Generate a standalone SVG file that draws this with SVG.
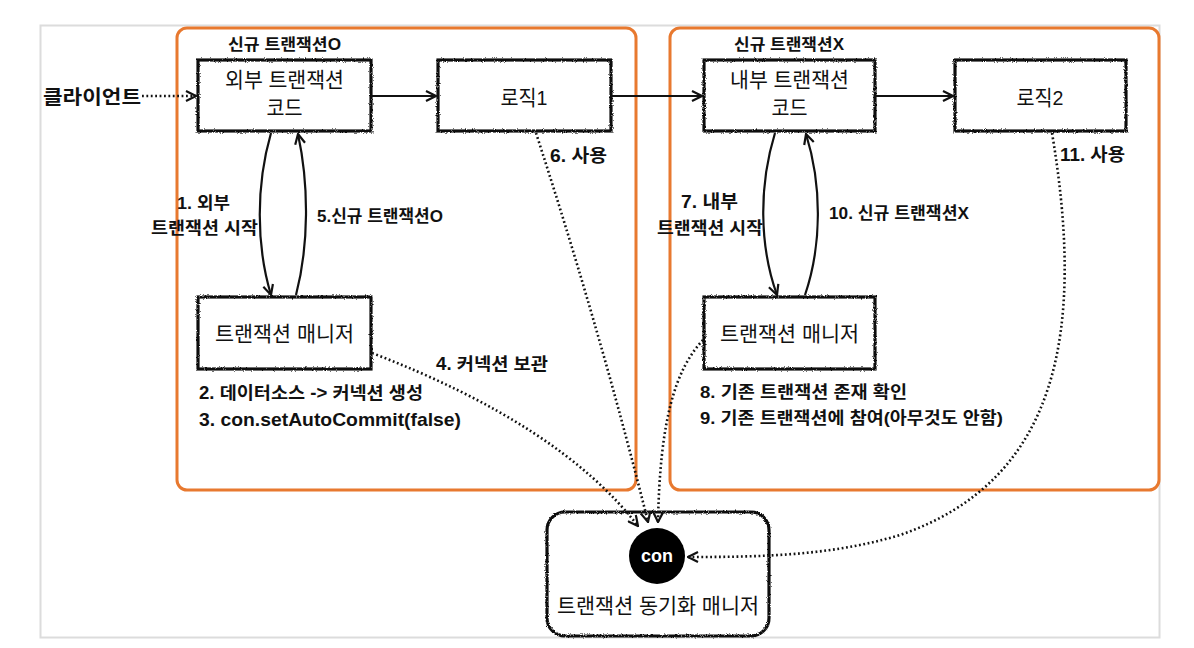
<svg xmlns="http://www.w3.org/2000/svg" width="1194" height="648" viewBox="0 0 1194 648">
<style>
  text { font-family: "Liberation Sans", "Noto Sans CJK KR", sans-serif; fill: #111; }
  .node { font-size: 21px; text-anchor: middle; }
  .lbl { font-size: 16px; font-weight: bold; }
  .box { fill: #fff; stroke: #111; stroke-width: 3.2; filter: url(#rough); }
  .group { fill: none; stroke: #E8792F; stroke-width: 3; }
  .solid { fill: none; stroke: #111; stroke-width: 2.2; }
  .dot { fill: none; stroke: #111; stroke-width: 2.6; stroke-dasharray: 1.8 2.6; }
</style>
<defs>
  <filter id="rough" x="-5%" y="-5%" width="110%" height="110%">
    <feTurbulence type="fractalNoise" baseFrequency="0.9" numOctaves="2" seed="3" result="n"/>
    <feDisplacementMap in="SourceGraphic" in2="n" scale="3" xChannelSelector="R" yChannelSelector="G"/>
  </filter>
  <marker id="arr" viewBox="0 0 12 12" refX="11" refY="6" markerWidth="12" markerHeight="12" markerUnits="userSpaceOnUse" orient="auto">
    <path d="M1,1 L11,6 L1,11" fill="none" stroke="#111" stroke-width="2.2" stroke-dasharray="none"/>
  </marker>
</defs>
<rect width="1194" height="648" fill="#fff"/>
<rect x="40.5" y="25.5" width="1119" height="612" fill="none" stroke="#dcdcdc" stroke-width="2"/>

<g id="group-outer">
  <rect class="group" x="177" y="28" width="459" height="462" rx="10"/>
  <text class="lbl" x="228" y="50" textLength="113" lengthAdjust="spacingAndGlyphs">신규 트랜잭션O</text>
</g>
<g id="group-inner">
  <rect class="group" x="670" y="28" width="489" height="462" rx="10"/>
  <text class="lbl" x="734" y="50" textLength="110" lengthAdjust="spacingAndGlyphs">신규 트랜잭션X</text>
</g>

<g id="client">
  <text class="lbl" x="43" y="104" style="font-size:19.5px" textLength="98" lengthAdjust="spacingAndGlyphs">클라이언트</text>
</g>

<g id="outer-code">
  <rect class="box" x="198" y="60" width="173" height="71"/>
  <text class="node" x="284.5" y="87" textLength="119" lengthAdjust="spacingAndGlyphs">외부 트랜잭션</text>
  <text class="node" x="284.5" y="115" textLength="36" lengthAdjust="spacingAndGlyphs">코드</text>
</g>
<g id="logic1">
  <rect class="box" x="438" y="60" width="173" height="71"/>
  <text class="node" x="524" y="105" textLength="47" lengthAdjust="spacingAndGlyphs">로직1</text>
</g>
<g id="tm1">
  <rect class="box" x="198" y="297" width="173" height="72"/>
  <text class="node" x="284.5" y="341" textLength="139" lengthAdjust="spacingAndGlyphs">트랜잭션 매니저</text>
</g>
<g id="inner-code">
  <rect class="box" x="704" y="60" width="171" height="71"/>
  <text class="node" x="789.5" y="87" textLength="119" lengthAdjust="spacingAndGlyphs">내부 트랜잭션</text>
  <text class="node" x="789.5" y="115" textLength="36" lengthAdjust="spacingAndGlyphs">코드</text>
</g>
<g id="logic2">
  <rect class="box" x="955" y="60" width="171" height="71"/>
  <text class="node" x="1040" y="105" textLength="47" lengthAdjust="spacingAndGlyphs">로직2</text>
</g>
<g id="tm2">
  <rect class="box" x="704" y="297" width="171" height="72"/>
  <text class="node" x="789.5" y="341" textLength="139" lengthAdjust="spacingAndGlyphs">트랜잭션 매니저</text>
</g>
<g id="sync-manager">
  <rect class="box" x="547" y="512" width="222" height="124" rx="18"/>
  <circle cx="657" cy="556" r="28" fill="#000"/>
  <text x="657" y="562" style="font-size:18px;font-weight:bold;fill:#fff;text-anchor:middle">con</text>
  <text class="node" x="658" y="613" textLength="202" lengthAdjust="spacingAndGlyphs">트랜잭션 동기화 매니저</text>
</g>

<g id="connectors">
  <path class="dot" d="M142,96 L196,96" marker-end="url(#arr)"/>
  <path class="solid" d="M371,96 L436,96" marker-end="url(#arr)"/>
  <path class="solid" d="M611,96 L702,96" marker-end="url(#arr)"/>
  <path class="solid" d="M875,96 L953,96" marker-end="url(#arr)"/>
  <path class="solid" d="M271,133 C256,185 256,245 271,295" marker-end="url(#arr)"/>
  <path class="solid" d="M296,295 C309,245 309,185 298,134" marker-end="url(#arr)"/>
  <path class="solid" d="M775,133 C759,185 759,245 777,295" marker-end="url(#arr)"/>
  <path class="solid" d="M805,295 C822,245 822,185 806,134" marker-end="url(#arr)"/>
  <path class="dot" d="M372,353 Q560,425 638,526" marker-end="url(#arr)"/>
  <path class="dot" d="M536,133 Q600,330 648,522" marker-end="url(#arr)"/>
  <path class="dot" d="M703,340 C675,370 660,420 658,522" marker-end="url(#arr)"/>
  <path class="dot" d="M1052,133 C1085,330 1060,480 900,535 C830,556 760,557 688,557" marker-end="url(#arr)"/>
</g>

<g id="labels">
  <text class="lbl" x="550" y="162" style="font-size:18px" textLength="57" lengthAdjust="spacingAndGlyphs">6. 사용</text>
  <text class="lbl" x="177" y="209" style="font-size:17px" textLength="53" lengthAdjust="spacingAndGlyphs">1. 외부</text>
  <text class="lbl" x="151" y="234" style="font-size:17px" textLength="107" lengthAdjust="spacingAndGlyphs">트랜잭션 시작</text>
  <text class="lbl" x="317" y="222" style="font-size:16.5px" textLength="126" lengthAdjust="spacingAndGlyphs">5.신규 트랜잭션O</text>
  <text class="lbl" x="436" y="370" style="font-size:17.5px" textLength="112" lengthAdjust="spacingAndGlyphs">4. 커넥션 보관</text>
  <text class="lbl" x="199" y="399" style="font-size:17.5px" textLength="224" lengthAdjust="spacingAndGlyphs">2. 데이터소스 -&gt; 커넥션 생성</text>
  <text class="lbl" x="199" y="426" style="font-size:18.5px" textLength="262" lengthAdjust="spacingAndGlyphs">3. con.setAutoCommit(false)</text>
  <text class="lbl" x="681" y="208" style="font-size:18px" textLength="57" lengthAdjust="spacingAndGlyphs">7. 내부</text>
  <text class="lbl" x="657" y="234" style="font-size:17px" textLength="106" lengthAdjust="spacingAndGlyphs">트랜잭션 시작</text>
  <text class="lbl" x="829" y="219" style="font-size:16.5px" textLength="140" lengthAdjust="spacingAndGlyphs">10. 신규 트랜잭션X</text>
  <text class="lbl" x="1060" y="161" style="font-size:18px" textLength="65" lengthAdjust="spacingAndGlyphs">11. 사용</text>
  <text class="lbl" x="700" y="398" style="font-size:16.5px" textLength="207" lengthAdjust="spacingAndGlyphs">8. 기존 트랜잭션 존재 확인</text>
  <text class="lbl" x="700" y="424" style="font-size:17px" textLength="303" lengthAdjust="spacingAndGlyphs">9. 기존 트랜잭션에 참여(아무것도 안함)</text>
</g>
</svg>
